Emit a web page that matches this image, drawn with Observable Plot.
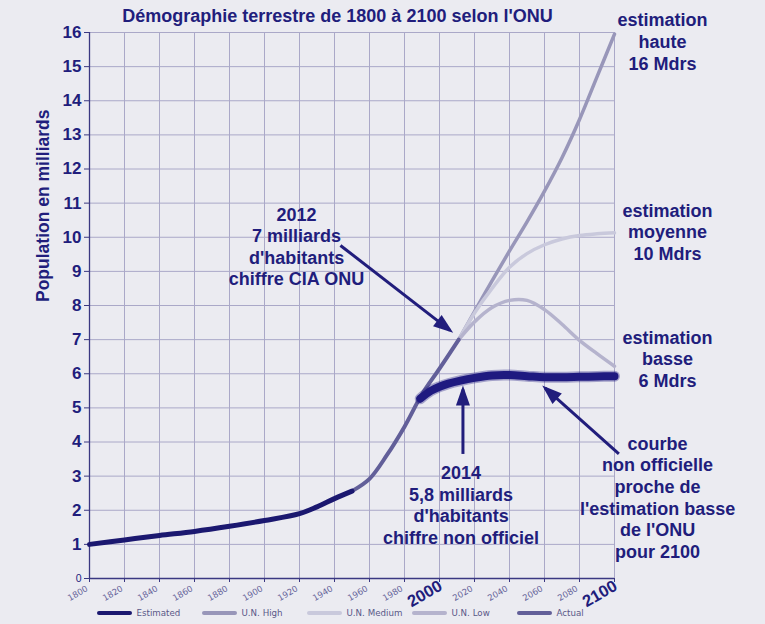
<!DOCTYPE html>
<html><head><meta charset="utf-8">
<script src="https://cdn.jsdelivr.net/npm/d3@7"></script>
<script src="https://cdn.jsdelivr.net/npm/@observablehq/plot@0.6"></script>
<style>
html,body{margin:0;padding:0;background:#ebebf1;}
#wrap{position:relative;width:765px;height:624px;overflow:hidden;background:#ebebf1;}
#chart svg{display:block;}
#title{position:absolute;left:0;top:6px;width:675px;text-align:center;font:bold 18px/20px "Liberation Sans",Arial,sans-serif;color:#211d7c;}
.lg{position:absolute;top:606px;height:14px;font:8.7px/14px "DejaVu Sans",sans-serif;color:#5a5888;white-space:nowrap;}
.lg .sw{position:absolute;left:0;top:5px;width:35px;height:4px;border-radius:2px;}
.lg .tx{position:absolute;left:39.5px;top:0;}
</style></head>
<body>
<div id="wrap"><div id="chart"></div><div id="title"></div><div id="legend"></div></div>
<script>
const titleText = "Démographie terrestre de 1800 à 2100 selon l'ONU";
const yLabel = "Population en milliards";

// [year, population in billions]
const estimated = [[1800,1.0],[1820,1.13],[1840,1.26],[1860,1.38],[1880,1.53],[1900,1.70],[1920,1.90],[1930,2.1],[1940,2.34],[1950,2.56]];
const actual = [[1950,2.56],[1960,2.92],[1970,3.62],[1980,4.45],[1990,5.4],[2000,6.15],[2011,7.0]];
const unHigh = [[2011,7.0],[2020,7.82],[2030,8.72],[2040,9.6],[2050,10.45],[2060,11.35],[2070,12.33],[2080,13.45],[2090,14.7],[2100,15.95]];
const unMedium = [[2011,7.0],[2020,7.78],[2030,8.5],[2040,9.12],[2050,9.52],[2060,9.78],[2070,9.95],[2080,10.05],[2090,10.1],[2100,10.13]];
const unLow = [[2011,7.0],[2020,7.52],[2030,7.94],[2040,8.15],[2050,8.15],[2060,7.88],[2070,7.45],[2080,6.98],[2090,6.59],[2100,6.22]];
const unofficial = [[1989,5.27],[1995,5.5],[2000,5.62],[2005,5.71],[2012,5.8],[2020,5.88],[2030,5.95],[2040,5.96],[2050,5.93],[2060,5.9],[2070,5.9],[2080,5.91],[2090,5.92],[2100,5.93]];

const yTicks = [1,2,3,4,5,6,7,8,9,10,11,12,13,14,15,16];
const gridYears = [1820,1840,1860,1880,1900,1920,1940,1960,1980,2000,2020,2040,2060,2080,2100];
const allXTicks = [1800,1820,1840,1860,1880,1900,1920,1940,1960,1980,2000,2020,2040,2060,2080,2100];
const smallXTicks = [1800,1820,1840,1860,1880,1900,1920,1940,1960,1980,2020,2040,2060,2080];
const bigXTicks = [2000,2100];

const arrows = [
  {x1:1943.4, y1:9.76, x2:2006.0, y2:7.27},
  {x1:2013.4, y1:3.65, x2:2013.4, y2:5.54},
  {x1:2102.5, y1:3.65, x2:2060.4, y2:5.58}
];
const notes = [
  {x:1918.3, y:9.74, text:"2012\n7 milliards\nd'habitants\nchiffre CIA ONU"},
  {x:2012.3, y:2.17, text:"2014\n5,8 milliards\nd'habitants\nchiffre non officiel"},
  {x:2127.4, y:15.75, text:"estimation\nhaute\n16 Mdrs"},
  {x:2130.3, y:10.17, text:"estimation\nmoyenne\n10 Mdrs"},
  {x:2130.3, y:6.45, text:"estimation\nbasse\n6 Mdrs"},
  {x:2124.6, y:2.39, text:"courbe\nnon officielle\nproche de\nl'estimation basse\nde l'ONU\npour 2100"}
];

const legendNames = ["Estimated","U.N. High","U.N. Medium","U.N. Low","Actual"];

const NAVY = "#211d7c", EST = "#1b1870", ACT = "#625f99", HIGH = "#9896b9", MED = "#c9c9dc", LOW = "#b5b3cd";
const GRID = "#aaa8c8", AXIS = "#3a3882", UNOFF = "#1f1a80";
const legendColors = [EST, HIGH, MED, LOW, ACT];

const chart = Plot.plot({
  width: 765, height: 624,
  marginLeft: 89, marginRight: 151, marginTop: 32, marginBottom: 46,
  style: {background: "transparent", color: NAVY, fontFamily: '"Liberation Sans", Arial, sans-serif', overflow: "visible"},
  x: {domain: [1800, 2100]},
  y: {domain: [0, 16]},
  marks: [
    Plot.gridX(gridYears, {stroke: GRID, strokeOpacity: 1, strokeWidth: 1}),
    Plot.gridY(yTicks, {stroke: GRID, strokeOpacity: 1, strokeWidth: 1}),
    Plot.ruleX([1800], {stroke: AXIS, strokeWidth: 1.3}),
    Plot.ruleY([0], {stroke: AXIS, strokeWidth: 1.3}),
    Plot.axisY(yTicks, {tickSize: 5, tickPadding: 3, fontSize: 17, fontWeight: "bold", label: null, stroke: AXIS, fill: NAVY}),
    Plot.axisY([0], {tickSize: 5, tickPadding: 3, fontSize: 10.5, label: null, stroke: AXIS, fill: NAVY}),
    Plot.axisX(allXTicks, {tickSize: 4, tickFormat: () => "", label: null, stroke: AXIS}),
    Plot.text(smallXTicks, {x: d => d, text: d => String(d), frameAnchor: "bottom", rotate: -30, textAnchor: "end", lineAnchor: "top", dx: -4, dy: 6.6, fontSize: 8.5, fontFamily: "DejaVu Sans", fill: "#66649a"}),
    Plot.text(bigXTicks, {x: d => d, text: d => String(d), frameAnchor: "bottom", rotate: -30, textAnchor: "end", lineAnchor: "top", dx: -2, dy: 0.5, fontSize: 16.5, fontWeight: "bold", fill: NAVY}),
    Plot.text([yLabel], {text: d => d, frameAnchor: "left", dx: -46.5, dy: -3.5, rotate: -90, fontSize: 17.5, fontWeight: "bold", fill: NAVY}),
    Plot.line(unHigh, {stroke: HIGH, strokeWidth: 3.5, curve: "catmull-rom"}),
    Plot.line(unMedium, {stroke: MED, strokeWidth: 3.5, curve: "catmull-rom"}),
    Plot.line(unLow, {stroke: LOW, strokeWidth: 3.5, curve: "catmull-rom"}),
    Plot.line(actual, {stroke: ACT, strokeWidth: 4, curve: "catmull-rom"}),
    Plot.line(estimated, {stroke: EST, strokeWidth: 5, curve: "catmull-rom"}),
    Plot.line(unofficial, {stroke: UNOFF, strokeWidth: 11, strokeOpacity: 0.35, curve: "catmull-rom"}),
    Plot.line(unofficial, {stroke: UNOFF, strokeWidth: 8, curve: "catmull-rom"}),
    Plot.link(arrows, {x1: "x1", y1: "y1", x2: "x2", y2: "y2", stroke: NAVY, strokeWidth: 3, markerEnd: "arrow"}),
    Plot.text(notes, {x: "x", y: "y", text: "text", fontSize: 18, fontWeight: "bold", lineHeight: 1.2, fill: NAVY})
  ]
});

chart.querySelectorAll("marker").forEach(m => {
  const col = m.getAttribute("stroke") || NAVY;
  m.setAttribute("overflow", "visible");
  m.setAttribute("fill", col);
  m.setAttribute("stroke", "none");
  const p = m.querySelector("path");
  if (p) p.setAttribute("d", "M-8,-3.5L2,0L-8,3.5Z");
});

document.getElementById("chart").appendChild(chart);
document.getElementById("title").textContent = titleText;

const legend = document.getElementById("legend");
legendNames.forEach((name, i) => {
  const item = document.createElement("div");
  item.className = "lg";
  item.style.left = (97 + i * 105) + "px";
  const sw = document.createElement("span");
  sw.className = "sw";
  sw.style.background = legendColors[i];
  const tx = document.createElement("span");
  tx.className = "tx";
  tx.textContent = name;
  item.appendChild(sw); item.appendChild(tx);
  legend.appendChild(item);
});
</script>
</body></html>
